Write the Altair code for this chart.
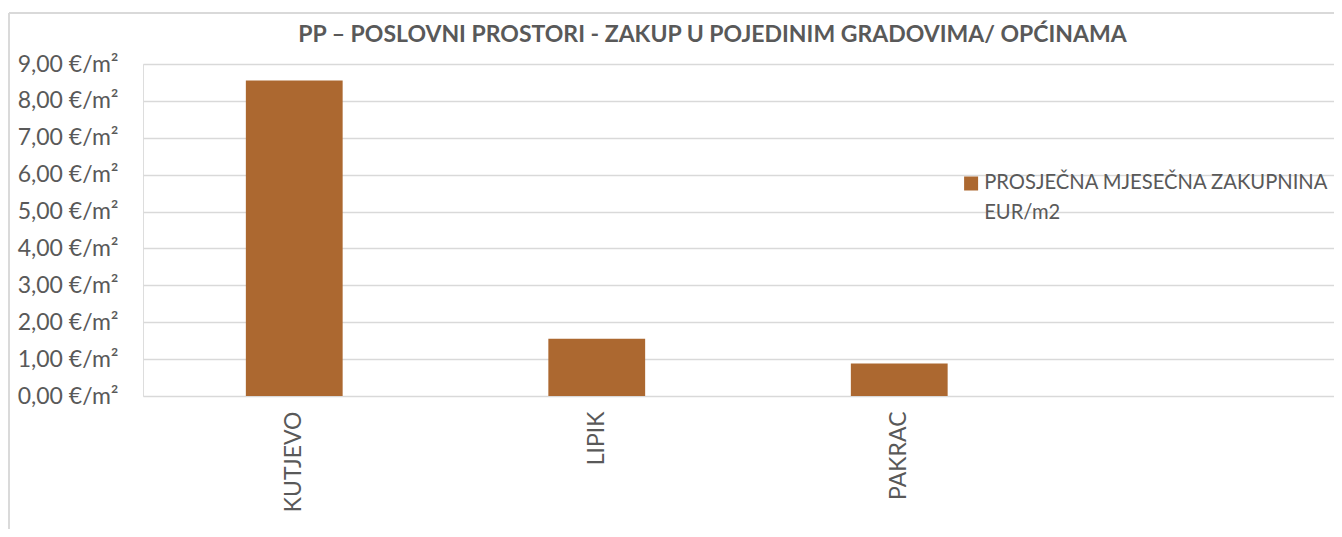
import altair as alt
import pandas as pd

categories = ["KUTJEVO", "LIPIK", "PAKRAC"]
values = [8.55, 1.55, 0.88]
series_name = "PROSJEČNA MJESEČNA ZAKUPNINA EUR/m2"
x_domain = categories + [""]
y_ticks = [0, 1, 2, 3, 4, 5, 6, 7, 8, 9]
title_text = "PP – POSLOVNI PROSTORI - ZAKUP U POJEDINIM GRADOVIMA/ OPĆINAMA"

df = pd.DataFrame({"grad": categories, "vrijednost": values, "serija": [series_name] * len(categories)})

GRAY = "#595959"
BAR = "#AC6830"
FONT = "Lato"

bars = alt.Chart(df).mark_bar(color=BAR).encode(
    x=alt.X("grad:N", sort=x_domain,
            scale=alt.Scale(domain=x_domain, range=[0, 1210], paddingInner=0.68, paddingOuter=0.34),
            axis=alt.Axis(title=None, labelAngle=-90, labelFontSize=23, labelFont=FONT,
                          labelColor=GRAY, labelPadding=15, ticks=False, domain=False,
                          grid=False, labelAlign="right", labelBaseline="middle")),
    y=alt.Y("vrijednost:Q", scale=alt.Scale(domain=[0, 9], nice=False),
            axis=alt.Axis(title=None, values=y_ticks, labelFontSize=23, labelFont=FONT,
                          labelColor=GRAY, labelPadding=25, ticks=False, domain=False,
                          gridColor="#D9D9D9", gridWidth=1.3,
                          labelExpr="replace(format(datum.value, '.2f'), '.', ',') + ' €/m²'")),
    color=alt.Color("serija:N", scale=alt.Scale(range=[BAR]),
                    legend=alt.Legend(title=None, orient="none", legendX=818, legendY=115,
                                      symbolType="M-1,-1.8H1V0.2H-1Z", symbolSize=196,
                                      symbolStrokeWidth=0,
                                      labelFontSize=20.2, labelFont=FONT, labelColor=GRAY,
                                      labelOffset=3, labelLimit=400, padding=0,
                                      labelBaseline="alphabetic",
                                      labelExpr="split(replace(datum.label, ' EUR/', '|EUR/'), '|')")),
)

frame_left = alt.Chart(df).mark_rule(color="#D9D9D9", strokeWidth=1.3).encode(
    x=alt.value(-134), y=alt.value(-51), y2=alt.value(470))
frame_top = alt.Chart(df).mark_rule(color="#D9D9D9", strokeWidth=1.3).encode(
    x=alt.value(-134), x2=alt.value(1200), y=alt.value(-51))

chart = alt.layer(frame_left, frame_top, bars).properties(
    width=1191, height=332,
    autosize=alt.AutoSizeParams(type="none"),
    padding={"left": 135, "top": 56, "right": 0, "bottom": 133},
    title=alt.TitleParams(title_text, fontSize=23, font=FONT, fontWeight="bold", color=GRAY,
                          anchor="middle", frame="group", dx=-26, offset=0, dy=35),
).configure_view(strokeWidth=0).configure(style={"guide-label": {"lineHeight": 29.5}})

chart.save("out.html", embed_options={"renderer": "svg", "actions": False})
